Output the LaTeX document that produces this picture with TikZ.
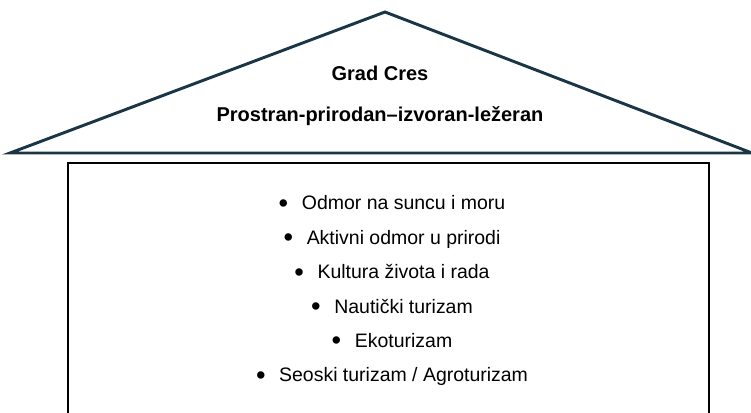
\documentclass[tikz,border=0pt]{standalone}
\usepackage{fontspec}
\setmainfont{Liberation Sans}
\definecolor{roofblue}{HTML}{1A3646}
\newcommand\crestitlestyle{\fontsize{15}{17}\selectfont\bfseries}
\newcommand\cresitemstyle{\fontsize{14.6}{17}\selectfont}
\newcommand\cresbullet{\raisebox{-.12em}{\scalebox{1.4}{\textbullet}}\hspace{.7em}}
\newcommand\cresrowgap{34.4}
\begin{document}
\begin{tikzpicture}[x=0.75pt, y=-0.75pt,
    roofline/.style={draw=roofblue, line width=2.2pt, line join=miter},
    wallline/.style={draw=black, line width=1.8pt},
    textnode/.style={inner sep=0pt, anchor=base}]
    \useasboundingbox (0,0) rectangle (751,413);
    \clip (0,0) rectangle (751,413);
    % roof
    \coordinate (roofleft) at (10,153);
    \coordinate (roofapex) at (385,12);
    \coordinate (roofright) at (752,153);
    \draw[roofline] (roofleft) -- (roofapex) -- (roofright) -- cycle;
    \node[textnode] (town) at (380,81) {\crestitlestyle Grad Cres};
    \node[textnode] (motto) at (380,121.5) {\crestitlestyle Prostran-prirodan–izvoran-ležeran};
    % house body, open at the bottom edge of the page
    \draw[wallline] (68,163) rectangle (709,430);
    \foreach \txt [count=\i from 0] in {Odmor na suncu i moru, Aktivni odmor u prirodi,
        Kultura života i rada, Nautički turizam, Ekoturizam, Seoski turizam / Agroturizam}
      \node[textnode] (offer\i) at (392, 210 + \cresrowgap*\i) {\cresitemstyle\cresbullet\txt};
\end{tikzpicture}
\end{document}
